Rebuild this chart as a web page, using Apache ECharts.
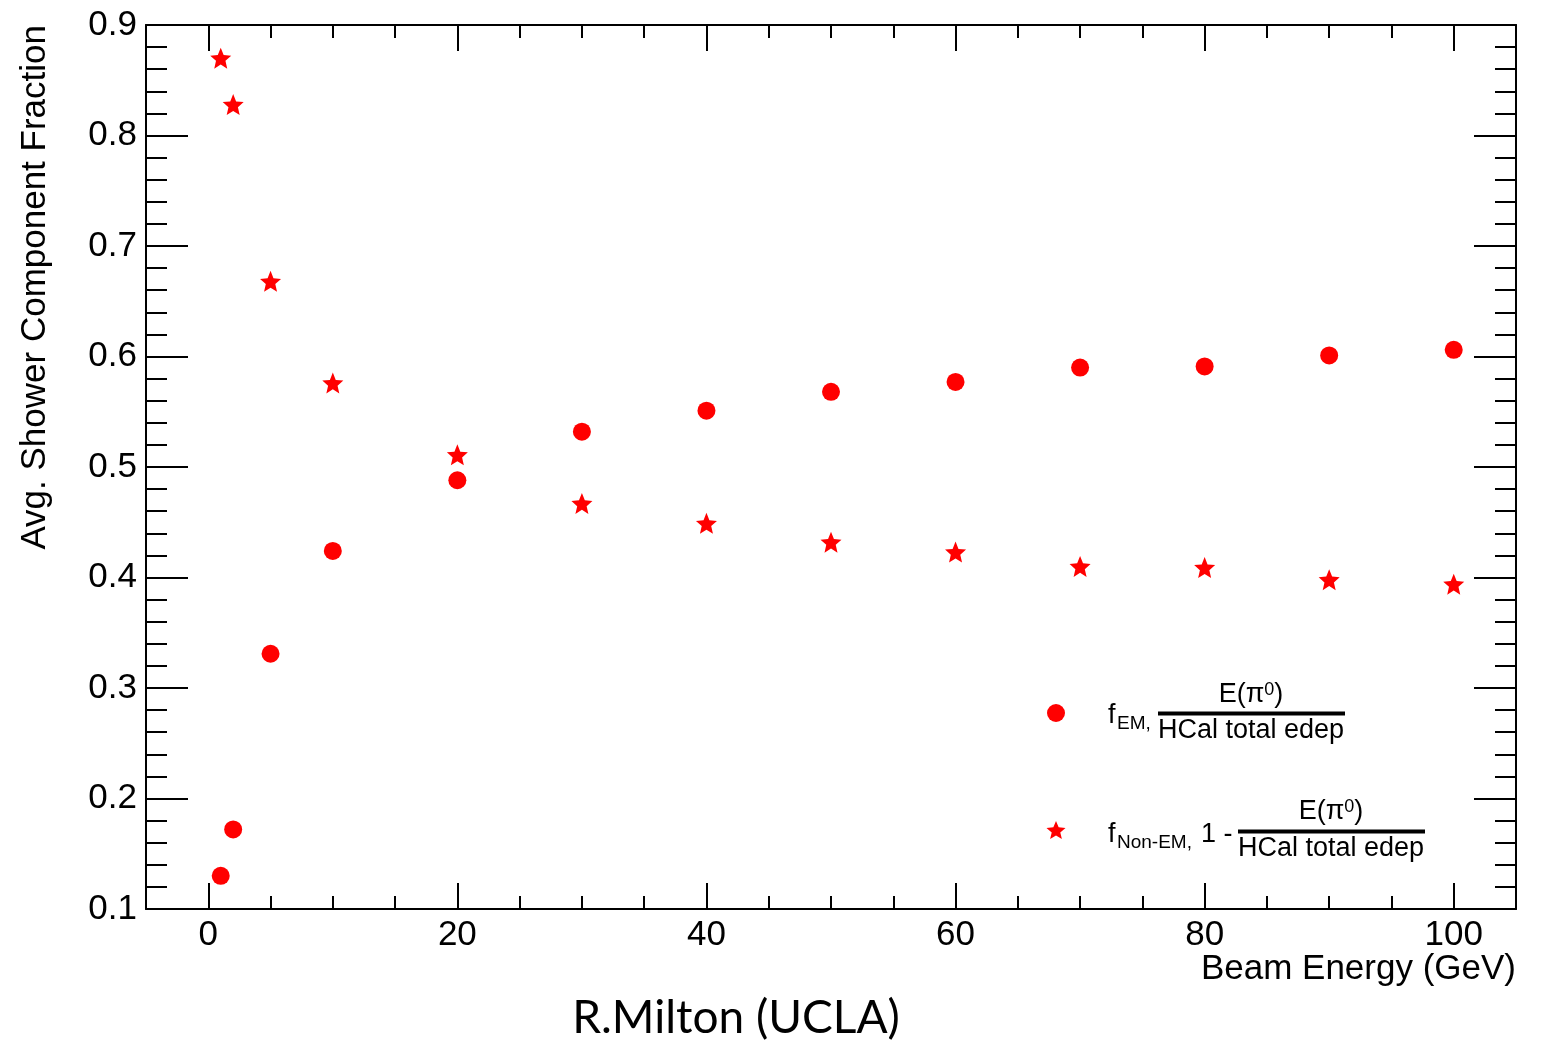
<!DOCTYPE html>
<html>
<head>
<meta charset="utf-8">
<script src="https://cdn.jsdelivr.net/npm/echarts@6/dist/echarts.min.js"></script>
<style>
html,body{margin:0;padding:0;background:#fff;}
#main{width:1544px;height:1045px;}
</style>
</head>
<body>
<div id="main"></div>
<script>
// ---- data ----
const beamEnergy = [1, 2, 5, 10, 20, 30, 40, 50, 60, 70, 80, 90, 100];
const emFraction = [0.130, 0.172, 0.331, 0.424, 0.488, 0.532, 0.551, 0.568, 0.577, 0.590, 0.591, 0.601, 0.606];
const nonEmFraction = [0.870, 0.828, 0.668, 0.576, 0.511, 0.467, 0.449, 0.432, 0.423, 0.410, 0.409, 0.398, 0.394];
const xMajorTicks = [0, 20, 40, 60, 80, 100];
const xTitle = 'Beam Energy (GeV)';
const yTitle = 'Avg. Shower Component Fraction';
const credit = 'R.Milton (UCLA)';

const FONT = '"Liberation Sans", Arial, Helvetica, sans-serif';
const RED = '#ff0000';
const STAR_PTS = [[10,0],[12.65,6.36],[19.51,6.91],[14.28,11.39],[15.88,18.09],[10,14.5],[4.12,18.09],[5.72,11.39],[0.49,6.91],[7.35,6.36]];
const STAR = 'path://M' + STAR_PTS.map(p => p.join(',')).join('L') + 'Z';

const emData = beamEnergy.map((e, i) => [e, emFraction[i]]);
const nonEmData = beamEnergy.map((e, i) => [e, nonEmFraction[i]]);

const axisLineStyle = {color: '#000', width: 2};
function xMinor(pos) {
  return {type: 'value', position: pos, min: -5, max: 105, interval: 5,
    axisLine: {show: true, onZero: false, lineStyle: axisLineStyle},
    axisTick: {show: true, inside: true, length: 13, lineStyle: axisLineStyle},
    axisLabel: {show: false}, splitLine: {show: false}};
}
function xMajor(pos, showLabel) {
  return {type: 'value', position: pos, min: -5, max: 105,
    axisLine: {show: false, onZero: false},
    axisTick: {show: true, inside: true, length: 26, customValues: xMajorTicks, lineStyle: axisLineStyle},
    axisLabel: {show: showLabel, customValues: xMajorTicks, fontSize: 35, fontFamily: FONT, color: '#000', margin: 9},
    splitLine: {show: false}};
}
function yAx(pos, showLabel) {
  return {type: 'value', position: pos, min: 0.1, max: 0.9, interval: 0.1,
    axisLine: {show: true, onZero: false, lineStyle: axisLineStyle},
    axisTick: {show: true, inside: true, length: 42, lineStyle: axisLineStyle},
    minorTick: {show: true, splitNumber: 5, length: 21, lineStyle: axisLineStyle},
    axisLabel: {show: showLabel, fontSize: 35, fontFamily: FONT, color: '#000', margin: 9},
    splitLine: {show: false}, minorSplitLine: {show: false}};
}

const chart = echarts.init(document.getElementById('main'), null, {renderer: 'canvas'});
const legendTxt = (text, x, y, size, align) => ({
  type: 'text', x: x, y: y,
  style: {text: text, fontSize: size, fontFamily: FONT, fill: '#000', align: align || 'left', verticalAlign: 'middle'}
});
const fracNum = (cx, y) => ({
  type: 'text', x: cx, y: y,
  style: {text: '{n|E(π}{s|0}{n|)}', align: 'center', verticalAlign: 'middle',
    rich: {n: {fontSize: 27, fontFamily: FONT, fill: '#000', verticalAlign: 'bottom'},
           s: {fontSize: 18, fontFamily: FONT, fill: '#000', verticalAlign: 'top'}}}
});

chart.setOption({
  animation: false,
  backgroundColor: '#fff',
  grid: {left: 146, right: 28, top: 25, bottom: 136, containLabel: false},
  xAxis: [xMinor('bottom'), xMajor('bottom', true), xMinor('top'), xMajor('top', false)],
  yAxis: [yAx('left', true), yAx('right', false)],
  series: [
    {name: 'EM', type: 'scatter', xAxisIndex: 0, yAxisIndex: 0, data: emData,
     symbol: 'circle', symbolSize: 18, itemStyle: {color: RED, opacity: 1}},
    {name: 'NonEM', type: 'scatter', xAxisIndex: 0, yAxisIndex: 0, data: nonEmData,
     symbol: STAR, symbolSize: 21, itemStyle: {color: RED, opacity: 1}}
  ],
  graphic: [
    // axis titles
    {type: 'text', x: 1516, y: 969,
     style: {text: xTitle, fontSize: 35, fontFamily: FONT, fill: '#000', align: 'right', verticalAlign: 'middle'}},
    {type: 'text', x: 35, y: 25, rotation: Math.PI / 2,
     style: {text: yTitle, fontSize: 35, fontFamily: FONT, fill: '#000', align: 'right', verticalAlign: 'middle'}},
    // credit
    {type: 'text', x: 736, y: 1018,
     style: {text: credit, fontSize: 46, fontFamily: 'Lato, "Open Sans", sans-serif', fill: '#000', align: 'center', verticalAlign: 'middle'}},
    // legend entry 1
    {type: 'circle', shape: {cx: 1056, cy: 713, r: 9}, style: {fill: RED}},
    legendTxt('f', 1108, 716, 27),
    legendTxt('EM,', 1117, 724, 19),
    fracNum(1251, 695),
    {type: 'line', shape: {x1: 1158, y1: 713.5, x2: 1345, y2: 713.5}, style: {stroke: '#000', lineWidth: 4}},
    legendTxt('HCal total edep', 1251, 731, 27, 'center'),
    // legend entry 2
    {type: 'polygon', x: 1046, y: 821, shape: {points: STAR_PTS}, style: {fill: RED}},
    legendTxt('f', 1108, 835, 27),
    legendTxt('Non-EM,', 1117, 843, 19),
    legendTxt('1 -', 1201, 835, 27),
    fracNum(1331, 812),
    {type: 'line', shape: {x1: 1238, y1: 831.5, x2: 1425, y2: 831.5}, style: {stroke: '#000', lineWidth: 4}},
    legendTxt('HCal total edep', 1331, 849, 27, 'center')
  ]
});
</script>
</body>
</html>
